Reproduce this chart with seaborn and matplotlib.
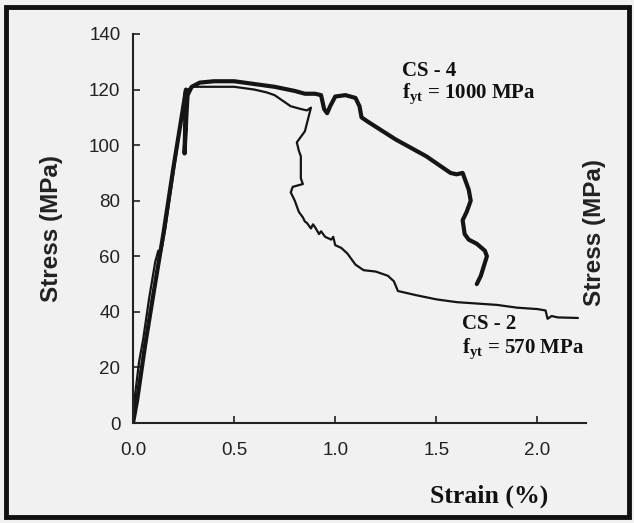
import matplotlib
matplotlib.use("Agg")
import matplotlib.pyplot as plt
import seaborn as sns
from matplotlib.patches import Rectangle

# ---- data ----
cs4_strain = [0.0, 0.02, 0.06, 0.10, 0.15, 0.20, 0.24, 0.262, 0.255, 0.265, 0.27, 0.29, 0.33, 0.40, 0.50,
              0.60, 0.70, 0.80, 0.85, 0.90, 0.93, 0.945, 0.96, 0.975, 1.00, 1.05, 1.10, 1.12, 1.13, 1.16,
              1.30, 1.45, 1.57, 1.60, 1.63, 1.645, 1.66, 1.67, 1.65, 1.63, 1.64, 1.66, 1.70, 1.74, 1.75,
              1.72, 1.70]
cs4_stress = [0.0, 8, 28, 46, 68, 92, 110, 120, 97, 112, 118, 121, 122.5, 123, 123,
              122, 121, 119.5, 118.5, 118.5, 118, 113, 111.5, 114, 117.5, 118, 117, 114, 110, 108.5,
              102, 96, 90, 89.5, 90, 87, 84, 80, 76, 73, 68, 66, 64.5, 62, 60,
              53, 50]

cs2_strain = [0.0, 0.01, 0.03, 0.05, 0.08, 0.11, 0.125, 0.14, 0.16, 0.20, 0.24, 0.27, 0.30, 0.40, 0.50,
              0.60, 0.66, 0.70, 0.74, 0.78, 0.83, 0.86, 0.88, 0.85, 0.81, 0.82, 0.83, 0.83, 0.84, 0.79,
              0.78, 0.80, 0.82, 0.84, 0.85, 0.86, 0.88, 0.89, 0.90, 0.92, 0.93, 0.95, 0.98, 0.99, 1.00,
              1.03, 1.06, 1.10, 1.14, 1.20, 1.26, 1.29, 1.31, 1.40, 1.50, 1.60, 1.70, 1.80, 1.90, 2.00,
              2.04, 2.05, 2.07, 2.10, 2.20]
cs2_stress = [0.0, 10, 22, 30, 45, 58, 62, 62, 70, 90, 110, 120, 121, 121, 121,
              120, 119, 118, 116, 114, 113, 112.5, 113.5, 105, 101, 98, 96, 88, 86, 85,
              83, 80, 76, 74, 72.5, 72, 70, 71.5, 70.5, 68, 69, 67, 66, 67, 64,
              63, 61, 57, 55, 54.5, 53, 51, 47.5, 46, 44.5, 43.5, 43, 42.5, 41.5, 41,
              40.5, 37.5, 38.5, 38, 37.8]

x_ticks = [0.0, 0.5, 1.0, 1.5, 2.0]
x_tick_labels = ["0.0", "0.5", "1.0", "1.5", "2.0"]
y_ticks = [0, 20, 40, 60, 80, 100, 120, 140]
y_tick_labels = ["0", "20", "40", "60", "80", "100", "120", "140"]

sns.set_style("ticks")
plt.rcParams["font.family"] = ["Liberation Sans", "DejaVu Sans"]
plt.rcParams["mathtext.fontset"] = "custom"
plt.rcParams["mathtext.rm"] = "Liberation Serif:bold"
plt.rcParams["mathtext.it"] = "Liberation Serif:bold"
plt.rcParams["mathtext.bf"] = "Liberation Serif:bold"

bg = "#f1f1f1"
fig = plt.figure(figsize=(6.34, 5.23), dpi=100, facecolor=bg)
ax = fig.add_axes([133 / 634, 1 - 423 / 523, (586 - 133) / 634, (423 - 34) / 523])
ax.set_facecolor("none")

sns.lineplot(x=cs4_strain, y=cs4_stress, sort=False, estimator=None, ax=ax,
             color="#151515", linewidth=3.0)
sns.lineplot(x=cs2_strain, y=cs2_stress, sort=False, estimator=None, ax=ax,
             color="#151515", linewidth=1.6)

ax.set_xlim(0, 2.24)
ax.set_ylim(0, 140)
ax.set_xticks(x_ticks)
ax.set_xticklabels(x_tick_labels)
ax.set_yticks(y_ticks)
ax.set_yticklabels(y_tick_labels)
ax.tick_params(direction="in", length=5, width=1.2, colors="#222222", labelsize=13.5)
ax.tick_params(axis="x", pad=14)
ax.tick_params(axis="y", pad=9)
for s in ["top", "right"]:
    ax.spines[s].set_visible(False)
for s in ["left", "bottom"]:
    ax.spines[s].set_linewidth(1.5)
    ax.spines[s].set_color("#222222")
ax.set_xlabel("")
ax.set_ylabel("")

# axis labels
fig.text(52 / 634, 1 - 228 / 523, "Stress (MPa)", rotation=90, ha="center", va="center",
         fontsize=17.5, fontweight="bold", color="#222222")
fig.text(594 / 634, 1 - 232 / 523, "Stress (MPa)", rotation=90, ha="center", va="center",
         fontsize=17.5, fontweight="bold", color="#222222")
fig.text(489 / 634, 1 - 496 / 523, "Strain (%)", ha="center", va="center",
         fontsize=18.5, fontweight="bold", family="Liberation Serif", color="#111111")

# annotations
ann_kw = dict(ha="left", va="center", fontsize=15, fontweight="bold",
              family="Liberation Serif", color="#111111")
fig.text(402 / 634, 1 - 71 / 523, "CS - 4", **ann_kw)
fig.text(402 / 634, 1 - 94 / 523, r"f$_{\mathrm{yt}}$ = 1000 MPa", **ann_kw)
fig.text(462 / 634, 1 - 324 / 523, "CS - 2", **ann_kw)
fig.text(462 / 634, 1 - 349 / 523, r"f$_{\mathrm{yt}}$ = 570 MPa", **ann_kw)

# outer frame
fig.patches.append(Rectangle((6 / 634, 6 / 523), 623 / 634, 510 / 523, transform=fig.transFigure,
                             fill=False, edgecolor="#111111", linewidth=3.5))

fig.savefig("out.png", dpi=100, facecolor=bg)
